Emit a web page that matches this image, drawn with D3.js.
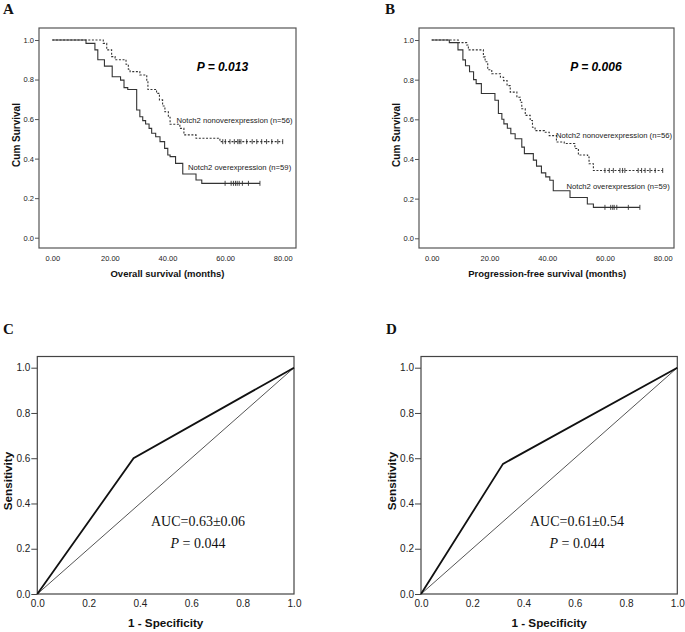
<!DOCTYPE html>
<html><head><meta charset="utf-8">
<script src="https://cdn.jsdelivr.net/npm/d3@7"></script>
<style>body{margin:0;background:#fff}svg{display:block}</style>
</head><body>
<svg id="chart" width="685" height="632"></svg>
<script>
// ---------- data ----------
const kmTicksX = [0, 20, 40, 60, 80];
const kmTicksY = [0, 0.2, 0.4, 0.6, 0.8, 1.0];
const rocTicks = [0, 0.2, 0.4, 0.6, 0.8, 1.0];

// Panel A: overall survival
const osOverTime = [0, 11.7, 14.8, 15.8, 18.1, 20.8, 23.7, 24.9, 26.2, 29.3, 30.4, 31.4, 32.4, 33.6, 34.5, 35.9, 37.4, 39.0, 40.1, 40.9, 42.8, 45.3, 49.9, 51.9, 72.1];
const osOverSurv = [1, 0.983, 0.95, 0.90, 0.868, 0.814, 0.797, 0.759, 0.75, 0.646, 0.612, 0.592, 0.575, 0.553, 0.528, 0.511, 0.486, 0.452, 0.418, 0.41, 0.376, 0.322, 0.292, 0.275, 0.275];
const osOverCensor = [60.0, 62.1, 62.9, 63.6, 64.2, 64.9, 66.0, 68.1, 72.1];
const osNonTime = [0, 17.7, 18.9, 20.6, 21.8, 25.6, 26.4, 27.0, 30.4, 32.8, 33.2, 36.2, 37.2, 38.3, 39.1, 40.3, 40.9, 44.3, 45.7, 49.9, 58.2, 80];
const osNonSurv = [1, 0.983, 0.95, 0.916, 0.90, 0.877, 0.852, 0.84, 0.823, 0.789, 0.75, 0.73, 0.697, 0.666, 0.637, 0.609, 0.574, 0.553, 0.52, 0.503, 0.486, 0.486];
const osNonCensor = [59.2, 60.1, 61.7, 63.2, 64.4, 64.9, 65.5, 67.5, 69.4, 71.0, 72.7, 74.4, 76.2, 78.3, 80];

// Panel B: progression-free survival
const pfsOverTime = [0, 6.1, 9.1, 10.8, 11.7, 13.1, 14.5, 15.4, 17.2, 21.9, 23.1, 24.3, 25.0, 26.2, 27.4, 28.9, 31.2, 32.1, 35.2, 36.3, 38.0, 39.5, 40.9, 42.1, 47.9, 53.9, 56.0, 72.1];
const pfsOverSurv = [1, 0.987, 0.95, 0.90, 0.87, 0.84, 0.80, 0.78, 0.73, 0.696, 0.629, 0.60, 0.577, 0.555, 0.527, 0.502, 0.46, 0.427, 0.394, 0.364, 0.33, 0.31, 0.293, 0.24, 0.206, 0.173, 0.156, 0.156];
const pfsOverCensor = [60.0, 62.0, 62.7, 63.2, 64.1, 68.1, 72.1];
const pfsNonTime = [0, 9.2, 12.1, 12.7, 17.9, 18.5, 19.4, 20.8, 23.8, 24.9, 26.1, 27.2, 29.5, 30.7, 31.2, 32.4, 34.1, 34.9, 35.8, 39.0, 40.7, 43.2, 45.9, 49.6, 50.8, 54.0, 54.5, 56.0, 80];
const pfsNonSurv = [1, 0.987, 0.975, 0.95, 0.915, 0.89, 0.85, 0.83, 0.812, 0.795, 0.77, 0.737, 0.711, 0.686, 0.653, 0.62, 0.594, 0.56, 0.543, 0.535, 0.518, 0.486, 0.478, 0.453, 0.42, 0.41, 0.376, 0.342, 0.342];
const pfsNonCensor = [60.0, 61.5, 62.9, 65.2, 66.1, 66.9, 71.5, 72.7, 73.9, 75.6, 77.4, 80];

// Panels C, D: ROC
const rocCFpr = [0, 0.375, 1];
const rocCTpr = [0, 0.60, 1];
const rocDFpr = [0, 0.32, 1];
const rocDTpr = [0, 0.575, 1];
const refFpr = [0, 1];
const refTpr = [0, 1];

// ---------- drawing ----------
const svg = d3.select("#chart");
svg.append("rect").attr("width", 685).attr("height", 632).attr("fill", "#fff");
const SANS = "Arial, 'Liberation Sans', Helvetica, sans-serif";
const SERIF = "'Times New Roman', 'Liberation Serif', serif";

function panelLetter(txt, x, y) {
  svg.append("text").attr("x", x).attr("y", y).text(txt)
    .attr("font-family", SERIF).attr("font-weight", "bold").attr("font-size", 15).attr("fill", "#111");
}

function stepValue(times, surv, t) {
  const i = d3.bisectRight(times, t) - 1;
  return surv[Math.max(0, i)];
}

function drawKM(cfg) {
  const g = svg.append("g");
  const x = d3.scaleLinear().domain([0, 80]).range(cfg.xr);
  const y = d3.scaleLinear().domain([0, 1]).range(cfg.yr);
  const b = cfg.box;
  g.append("rect").attr("x", b.l).attr("y", b.t).attr("width", b.r - b.l).attr("height", b.b - b.t)
    .attr("fill", "none").attr("stroke", "#555").attr("stroke-width", 1.2);

  const ya = g.append("g").attr("transform", `translate(${b.l},0)`)
    .call(d3.axisLeft(y).tickValues(kmTicksY).tickFormat(d3.format(".1f")).tickSize(4).tickPadding(1));
  const xa = g.append("g").attr("transform", `translate(0,${b.b})`)
    .call(d3.axisBottom(x).tickValues(kmTicksX).tickFormat(d3.format(".2f")).tickSize(0).tickPadding(8));
  [ya, xa].forEach(a => {
    a.select(".domain").remove();
    a.selectAll("line").attr("stroke", "#555");
    a.selectAll("text").attr("font-family", SANS).attr("font-size", 7.5).attr("fill", "#222");
  });

  const line = d3.line().x(d => x(d[0])).y(d => y(d[1])).curve(d3.curveStepAfter);
  cfg.series.forEach(s => {
    const pts = s.time.map((t, i) => [t, s.surv[i]]);
    g.append("path").attr("d", line(pts)).attr("fill", "none")
      .attr("stroke", "#333").attr("stroke-width", 1.1)
      .attr("stroke-dasharray", s.dashed ? "2,1.6" : null);
    g.selectAll(null).data(s.censor).enter().append("line")
      .attr("x1", d => x(d)).attr("x2", d => x(d))
      .attr("y1", d => y(stepValue(s.time, s.surv, d)) - 2.5)
      .attr("y2", d => y(stepValue(s.time, s.surv, d)) + 2.5)
      .attr("stroke", "#333").attr("stroke-width", 0.9);
    g.append("text").attr("x", s.lx).attr("y", s.ly).text(s.label)
      .attr("font-family", SANS).attr("font-size", 7.7).attr("fill", "#222");
  });

  g.append("text").attr("x", cfg.px).attr("y", 71).attr("text-anchor", "middle").text(cfg.pText)
    .attr("font-family", SANS).attr("font-weight", "bold").attr("font-style", "italic").attr("font-size", 12).attr("fill", "#000");
  g.append("text").attr("x", (cfg.xr[0] + cfg.xr[1]) / 2).attr("y", 277).attr("text-anchor", "middle").text(cfg.xLabel)
    .attr("font-family", SANS).attr("font-weight", "bold").attr("font-size", 9.5).attr("fill", "#111");
  g.append("text").attr("transform", `translate(${cfg.ylx},135) rotate(-90)`).attr("text-anchor", "middle").text("Cum Survival")
    .attr("font-family", SANS).attr("font-weight", "bold").attr("font-size", 10).attr("fill", "#111");
}

function drawROC(cfg) {
  const g = svg.append("g");
  const x = d3.scaleLinear().domain([0, 1]).range(cfg.xr);
  const y = d3.scaleLinear().domain([0, 1]).range([594, 367.7]);
  g.append("rect").attr("x", cfg.xr[0]).attr("y", 356.5).attr("width", cfg.xr[1] - cfg.xr[0]).attr("height", 594 - 356.5)
    .attr("fill", "none").attr("stroke", "#444").attr("stroke-width", 1.2);
  const ya = g.append("g").attr("transform", `translate(${cfg.xr[0]},0)`)
    .call(d3.axisLeft(y).tickValues(rocTicks).tickFormat(d3.format(".1f")).tickSize(6).tickPadding(1));
  const xa = g.append("g").attr("transform", `translate(0,594)`)
    .call(d3.axisBottom(x).tickValues(rocTicks).tickFormat(d3.format(".1f")).tickSize(0).tickPadding(6));
  [ya, xa].forEach(a => {
    a.select(".domain").remove();
    a.selectAll("line").attr("stroke", "#444");
    a.selectAll("text").attr("font-family", SANS).attr("font-size", 10).attr("fill", "#222");
  });
  const line = d3.line().x(d => x(d[0])).y(d => y(d[1]));
  g.append("path").attr("d", line(refFpr.map((v, i) => [v, refTpr[i]])))
    .attr("fill", "none").attr("stroke", "#555").attr("stroke-width", 1);
  g.append("path").attr("d", line(cfg.fpr.map((v, i) => [v, cfg.tpr[i]])))
    .attr("fill", "none").attr("stroke", "#111").attr("stroke-width", 1.8);
  g.append("text").attr("x", cfg.ax).attr("y", 526).attr("text-anchor", "middle").text(cfg.auc)
    .attr("font-family", SERIF).attr("font-size", 14).attr("fill", "#111");
  const p = g.append("text").attr("x", cfg.ax).attr("y", 548).attr("text-anchor", "middle")
    .attr("font-family", SERIF).attr("font-size", 14).attr("fill", "#111");
  p.append("tspan").attr("font-style", "italic").text("P");
  p.append("tspan").text(" = 0.044");
  g.append("text").attr("x", (cfg.xr[0] + cfg.xr[1]) / 2).attr("y", 627).attr("text-anchor", "middle").text("1 - Specificity")
    .attr("font-family", SANS).attr("font-weight", "bold").attr("font-size", 11.7).attr("fill", "#111");
  g.append("text").attr("transform", `translate(${cfg.ylx},481) rotate(-90)`).attr("text-anchor", "middle").text("Sensitivity")
    .attr("font-family", SANS).attr("font-weight", "bold").attr("font-size", 11.7).attr("fill", "#111");
}

panelLetter("A", 3, 14);
panelLetter("B", 385, 14);
panelLetter("C", 3, 334);
panelLetter("D", 386, 334);

drawKM({
  box: {l: 39, t: 28, r: 296, b: 248}, xr: [52.3, 282.7], yr: [237.7, 40],
  px: 222.5, pText: "P = 0.013", xLabel: "Overall survival (months)", ylx: 19.5,
  series: [
    {time: osNonTime, surv: osNonSurv, censor: osNonCensor, dashed: true, label: "Notch2 nonoverexpression (n=56)", lx: 176.5, ly: 123},
    {time: osOverTime, surv: osOverSurv, censor: osOverCensor, dashed: false, label: "Notch2 overexpression (n=59)", lx: 188, ly: 169.5}
  ]
});
drawKM({
  box: {l: 419, t: 28, r: 674, b: 248}, xr: [431.7, 662.7], yr: [238.3, 40],
  px: 596, pText: "P = 0.006", xLabel: "Progression-free survival (months)", ylx: 400,
  series: [
    {time: pfsNonTime, surv: pfsNonSurv, censor: pfsNonCensor, dashed: true, label: "Notch2 nonoverexpression (n=56)", lx: 556, ly: 138},
    {time: pfsOverTime, surv: pfsOverSurv, censor: pfsOverCensor, dashed: false, label: "Notch2 overexpression (n=59)", lx: 566.5, ly: 189}
  ]
});
drawROC({xr: [37.3, 294], fpr: rocCFpr, tpr: rocCTpr, auc: "AUC=0.63\u00b10.06", ax: 198, ylx: 12});
drawROC({xr: [421, 677.3], fpr: rocDFpr, tpr: rocDTpr, auc: "AUC=0.61\u00b10.54", ax: 577, ylx: 396});
</script>
</body></html>
